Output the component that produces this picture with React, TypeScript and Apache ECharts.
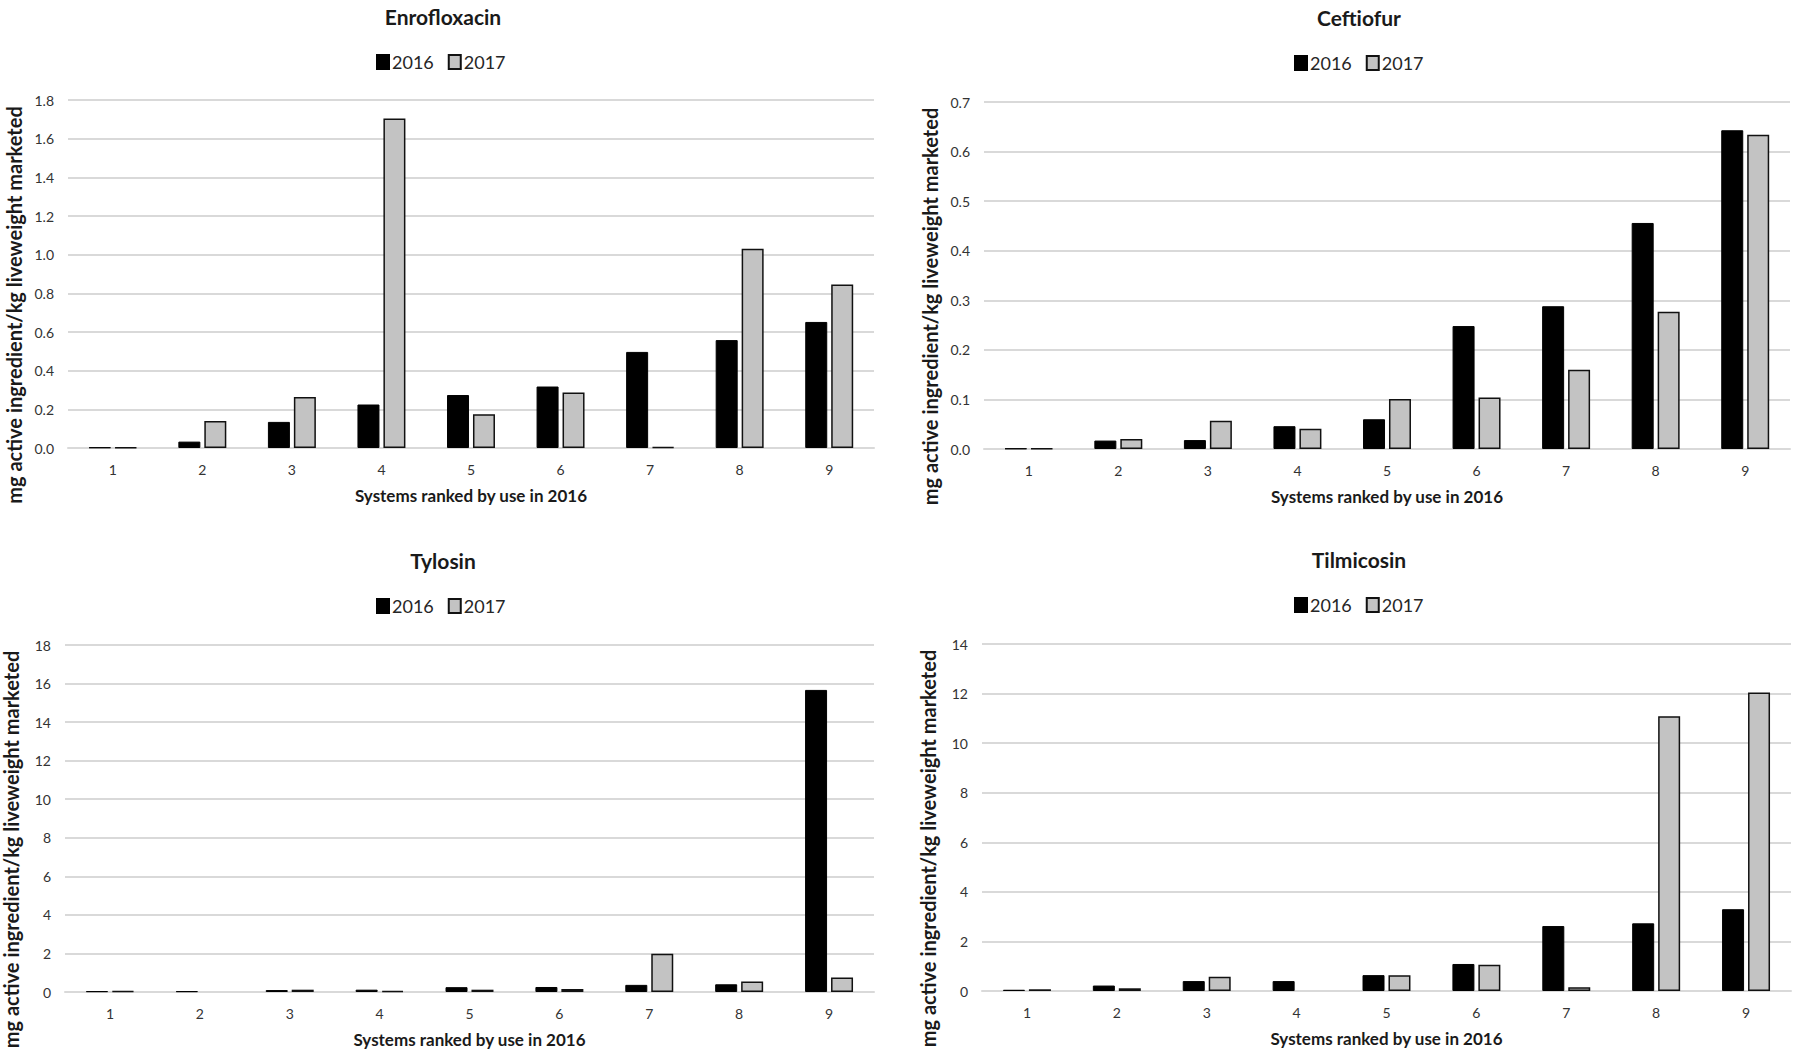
import React, { useEffect, useRef } from "react";
import * as echarts from "echarts";

const categories = ["1", "2", "3", "4", "5", "6", "7", "8", "9"];
const years = ["2016", "2017"];

const enro2016 = [0.003, 0.033, 0.135, 0.225, 0.274, 0.318, 0.497, 0.558, 0.652];
const enro2017 = [0.003, 0.14, 0.264, 1.704, 0.175, 0.287, 0.004, 1.031, 0.846];

const ceft2016 = [0.001, 0.017, 0.018, 0.046, 0.06, 0.248, 0.288, 0.456, 0.643];
const ceft2017 = [0.001, 0.02, 0.057, 0.041, 0.101, 0.104, 0.16, 0.277, 0.634];

const tylo2016 = [0.04, 0.04, 0.1, 0.12, 0.25, 0.26, 0.37, 0.4, 15.67];
const tylo2017 = [0.04, null, 0.12, 0.06, 0.12, 0.16, 1.98, 0.54, 0.75];

const tilm2016 = [0.05, 0.22, 0.4, 0.4, 0.64, 1.09, 2.62, 2.73, 3.3];
const tilm2017 = [0.07, 0.11, 0.57, null, 0.64, 1.06, 0.15, 11.08, 12.04];

const titles = ["Enrofloxacin", "Ceftiofur", "Tylosin", "Tilmicosin"];
const yMax = [1.8, 0.7, 18, 14];
const yInterval = [0.2, 0.1, 2, 2];
const yDecimals = [1, 1, 0, 0];
const xAxisName = "Systems ranked by use in 2016";
const yAxisName = "mg active ingredient/kg liveweight marketed";

const panelData = [
  [enro2016, enro2017],
  [ceft2016, ceft2017],
  [tylo2016, tylo2017],
  [tilm2016, tilm2017],
];

const FONT = "Lato, 'Open Sans', sans-serif";

export default function App() {
  const ref = useRef<HTMLDivElement>(null);
  useEffect(() => {
    if (!ref.current) return;
    const chart = echarts.init(ref.current, null, { renderer: "svg" });

    const grids = [
      { left: 68, right: 926, top: 100, bottom: 608 },
      { left: 984, right: 10, top: 102, bottom: 607 },
      { left: 64, right: 926, top: 645, bottom: 64 },
      { left: 982, right: 9, top: 644, bottom: 65 },
    ];
    const titlePos = [
      { x: 438, y: 1 },
      { x: 1354, y: 2 },
      { x: 438, y: 545 },
      { x: 1354, y: 544 },
    ];
    const legendPos = [
      { x: 371, y: 48 },
      { x: 1289, y: 49 },
      { x: 371, y: 592 },
      { x: 1289, y: 591 },
    ];

    const gridColor = "#d9d9d9";

    const option: any = {
      animation: false,
      backgroundColor: "#ffffff",
      textStyle: { fontFamily: FONT },
      title: titles.map((t, i) => ({
        text: t,
        left: titlePos[i].x,
        top: titlePos[i].y,
        textAlign: "center",
        textStyle: { fontFamily: FONT, fontSize: 21, fontWeight: "bold", color: "#1a1a1a" },
      })),
      legend: legendPos.map((p) => ({
        data: years,
        left: p.x,
        top: p.y,
        itemWidth: 12,
        itemHeight: 14,
        itemGap: 14,
        icon: "rect",
        textStyle: { fontFamily: FONT, fontSize: 18, color: "#262626", padding: [0, 0, 0, -2] },
      })),
      grid: grids,
      xAxis: grids.map((_, i) => ({
        type: "category",
        gridIndex: i,
        data: categories,
        name: xAxisName,
        nameLocation: "middle",
        nameGap: 39,
        nameTextStyle: { fontFamily: FONT, fontSize: 17, fontWeight: "bold", color: "#1a1a1a" },
        axisLine: { lineStyle: { color: gridColor, width: 2 } },
        axisTick: { show: false },
        axisLabel: { fontFamily: FONT, fontSize: 14, color: "#333333", margin: 14 },
      })),
      yAxis: grids.map((_, i) => ({
        type: "value",
        gridIndex: i,
        min: 0,
        max: yMax[i],
        interval: yInterval[i],
        name: yAxisName,
        nameLocation: "middle",
        nameGap: 44,
        nameTextStyle: {
          fontFamily: FONT,
          fontSize: 20,
          fontWeight: "bold",
          color: "#1a1a1a",
          padding: [0, 62, 0, 0],
        },
        axisLine: { show: false },
        axisTick: { show: false },
        splitLine: { lineStyle: { color: gridColor, width: 2 } },
        axisLabel: {
          fontFamily: FONT,
          fontSize: 14,
          color: "#333333",
          margin: 14,
          formatter: (v: number) => v.toFixed(yDecimals[i]),
        },
      })),
      series: panelData.flatMap((pair, i) => [
        {
          type: "bar",
          name: years[0],
          xAxisIndex: i,
          yAxisIndex: i,
          data: pair[0],
          barWidth: 22,
          barGap: "18%",
          itemStyle: { color: "#000000", borderColor: "#000000", borderWidth: 1 },
        },
        {
          type: "bar",
          name: years[1],
          xAxisIndex: i,
          yAxisIndex: i,
          data: pair[1],
          barWidth: 22,
          barGap: "18%",
          itemStyle: { color: "#c3c3c3", borderColor: "#111111", borderWidth: 1.5 },
        },
      ]),
    };

    chart.setOption(option);
    return () => chart.dispose();
  }, []);

  return (
    <div
      ref={ref}
      style={{ position: "fixed", left: 0, top: 0, width: 1800, height: 1056, background: "#fff" }}
    />
  );
}
